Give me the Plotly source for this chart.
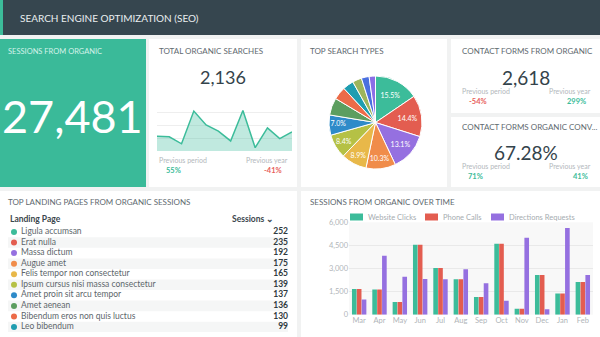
import plotly.graph_objects as go

W, H = 600, 337
FONT = "Lato, Open Sans, sans-serif"

# ---------------- data ----------------
kpi_sessions = "27,481"
kpi_searches = "2,136"
searches_trend = [57, 55, 28, 155, 101, 77, 39, 157, 13, 90, 48, 74]
searches_prev_period = "55%"
searches_prev_year = "-41%"

contact_forms = "2,618"
contact_prev_period = "-54%"
contact_prev_year = "299%"

conv_rate = "67.28%"
conv_prev_period = "71%"
conv_prev_year = "41%"

search_type_share = [15.5, 14.4, 13.1, 10.3, 8.9, 8.4, 7.0, 6.0, 4.5, 3.8, 3.2, 2.7, 2.2]
palette = ["#3cbc9a", "#e35d50", "#9570e0", "#f08c4a", "#e8b849", "#b5c145",
           "#2e8bc9", "#5c9e5f", "#ec6b48", "#1f9db0", "#9db55c", "#4a70e0", "#8b6ee6"]

landing_pages = ["Ligula accumsan", "Erat nulla", "Massa dictum", "Augue amet",
                 "Felis tempor non consectetur", "Ipsum cursus nisi massa consectetur",
                 "Amet proin sit arcu tempor", "Amet aenean", "Bibendum eros non quis luctus",
                 "Leo bibendum"]
landing_sessions = [252, 235, 192, 175, 165, 139, 137, 136, 130, 99]

months = ["Mar", "Apr", "May", "Jun", "Jul", "Aug", "Sep", "Oct", "Nov", "Dec", "Jan", "Feb"]
website_clicks = [1670, 1630, 820, 4550, 3030, 2300, 1150, 4600, 390, 2570, 1370, 2120]
phone_calls = [1670, 1630, 820, 4550, 3030, 2300, 1150, 4600, 390, 2570, 1370, 2120]
directions_requests = [980, 3830, 2470, 2320, 2300, 2950, 2050, 910, 5000, 350, 5630, 2570]
series_names = ["Website Clicks", "Phone Calls", "Directions Requests"]
series_colors = ["#3cbc9a", "#e35d50", "#9570e0"]
bar_ticks = [0, 1500, 3000, 4500, 6000]


def fx(x):
    return x / W


def fy(y):
    return 1 - y / H


fig = go.Figure()
shapes = []
annotations = []


def rect(x0, y0, x1, y1, color):
    shapes.append(dict(type="rect", xref="paper", yref="paper", x0=fx(x0), x1=fx(x1),
                       y0=fy(y1), y1=fy(y0), fillcolor=color, line=dict(width=0), layer="below"))


def txt(x, y, s, size, color, anchor="left", family=FONT, bold=False):
    annotations.append(dict(xref="paper", yref="paper", x=fx(x), y=fy(y), text=(f"<b>{s}</b>" if bold else s),
                            showarrow=False, xanchor=anchor, yanchor="middle",
                            font=dict(size=size, color=color, family=family)))


GREEN = "#3cbc9a"
RED = "#e8605a"
TITLE = "#616a70"
SUB = "#b3b8bc"

# header
rect(0, 0, 600, 35, "#36464f")
rect(0, 0, 3, 35, "#3cbc9a")
txt(18, 18, "SEARCH ENGINE OPTIMIZATION (SEO)", 10, "#e9eef0")

# tiles
rect(0, 39, 146, 187, "#3aba99")
rect(149, 39, 297, 187, "white")
rect(301, 39, 447, 187, "white")
rect(451, 39, 600, 113, "white")
rect(451, 117, 600, 187, "white")
rect(0, 191, 297, 337, "white")
rect(301, 191, 600, 337, "white")

# tile 1
txt(6, 51, "SESSIONS FROM ORGANIC", 7.5, "#d4f2e9")
txt(72, 116, kpi_sessions, 45, "white", "center")

# tile 2
txt(157, 51, "TOTAL ORGANIC SEARCHES", 8, TITLE)
txt(223, 77, kpi_searches, 18, "#34434b", "center")
txt(157, 160, "Previous period", 7, SUB)
txt(173, 170, searches_prev_period, 7.5, GREEN, "center", bold=True)
txt(290, 160, "Previous year", 7, SUB, "right")
txt(273, 170, searches_prev_year, 7.5, RED, "center", bold=True)

fig.add_trace(go.Scatter(x=list(range(len(searches_trend))), y=searches_trend, mode="lines",
                         line=dict(color=GREEN, width=1.5), fill="tozeroy",
                         fillcolor="rgba(60,188,154,0.32)", hoverinfo="skip", showlegend=False,
                         xaxis="x", yaxis="y"))

# tile 3
txt(308, 51, "TOP SEARCH TYPES", 8, TITLE)
fig.add_trace(go.Pie(values=search_type_share, sort=False, direction="clockwise", rotation=0,
                     marker=dict(colors=palette, line=dict(color="white", width=1)),
                     texttemplate=["%{percent:.1%}" if v >= 7 else "" for v in search_type_share],
                     textposition="inside", insidetextorientation="horizontal",
                     textfont=dict(size=7, color="white", family=FONT),
                     domain=dict(x=[fx(329), fx(422)], y=[fy(169), fy(76)]),
                     showlegend=False, hoverinfo="skip"))

# tile 4
txt(460, 51, "CONTACT FORMS FROM ORGANIC", 8, TITLE)
txt(526, 77, contact_forms, 19, "#34434b", "center")
txt(460, 91, "Previous period", 7, SUB)
txt(478, 101, contact_prev_period, 7.5, RED, "center", bold=True)
txt(593, 91, "Previous year", 7, SUB, "right")
txt(576, 101, contact_prev_year, 7.5, GREEN, "center", bold=True)

# tile 5
txt(460, 127, "CONTACT FORMS ORGANIC CONV...", 8, TITLE)
txt(526, 152, conv_rate, 19, "#34434b", "center")
txt(460, 166, "Previous period", 7, SUB)
txt(475, 176, conv_prev_period, 7.5, GREEN, "center", bold=True)
txt(593, 166, "Previous year", 7, SUB, "right")
txt(580, 176, conv_prev_year, 7.5, GREEN, "center", bold=True)

# landing pages table
txt(6, 202, "TOP LANDING PAGES FROM ORGANIC SESSIONS", 8, TITLE)
txt(8, 219, "Landing Page", 8.5, "#3b464c", bold=True)
txt(276, 219, "Sessions \u2304", 8.5, "#3b464c", "right", bold=True)
rows = list(range(len(landing_pages)))
for i in rows:
    if i % 2 == 1:
        shapes.append(dict(type="rect", xref="x3", yref="y3", x0=8, x1=288, y0=i - 0.5, y1=i + 0.5,
                           fillcolor="#f5f6f6", line=dict(width=0), layer="below"))
fig.add_trace(go.Scatter(x=[14] * len(rows), y=rows, mode="markers",
                         marker=dict(size=6, color=palette[:len(rows)]),
                         hoverinfo="skip", showlegend=False, xaxis="x3", yaxis="y3"))
fig.add_trace(go.Scatter(x=[21] * len(rows), y=rows, mode="text", text=landing_pages,
                         textposition="middle right",
                         textfont=dict(size=8.5, color="#5d666b", family=FONT),
                         hoverinfo="skip", showlegend=False, xaxis="x3", yaxis="y3"))
fig.add_trace(go.Scatter(x=[288] * len(rows), y=rows, mode="text",
                         text=[f"<b>{v}</b>" for v in landing_sessions],
                         textposition="middle left",
                         textfont=dict(size=8.5, color="#2f3a40", family=FONT),
                         hoverinfo="skip", showlegend=False, xaxis="x3", yaxis="y3"))

# bar chart
txt(308, 202, "SESSIONS FROM ORGANIC OVER TIME", 8, TITLE)
for name, vals, col in zip(series_names, [website_clicks, phone_calls, directions_requests], series_colors):
    fig.add_trace(go.Bar(x=months, y=vals, name=name, marker=dict(color=col, line=dict(width=0)),
                         xaxis="x2", yaxis="y2", hoverinfo="skip", showlegend=False))

# manual legend
legend_x = [350, 425, 491]
for lx, name, col in zip(legend_x, series_names, series_colors):
    shapes.append(dict(type="rect", xref="paper", yref="paper", x0=fx(lx), x1=fx(lx + 13),
                       y0=fy(220.5), y1=fy(213.5), fillcolor=col, line=dict(width=0)))
    txt(lx + 16, 217, name, 7.5, "#a6acb0")

# light plot-area background for bar chart
shapes.append(dict(type="rect", xref="x2 domain", yref="y2 domain", x0=0, x1=1, y0=0, y1=1,
                   fillcolor="#f8f8f8", line=dict(width=0), layer="below"))

fig.update_layout(
    width=W, height=H, margin=dict(l=0, r=0, t=0, b=0, autoexpand=False),
    paper_bgcolor="#f1f2f2", plot_bgcolor="rgba(0,0,0,0)",
    font=dict(family=FONT),
    shapes=shapes, annotations=annotations, showlegend=False,
    barmode="group", bargap=0.28, bargroupgap=0.05,
    xaxis=dict(domain=[fx(157), fx(292)], range=[0, len(searches_trend) - 1], visible=False,
               anchor="y"),
    yaxis=dict(domain=[fy(151), fy(99)], range=[0, 202], showticklabels=False, showgrid=True,
               gridcolor="#eeeeee", gridwidth=1, dtick=50, zeroline=False, anchor="x"),
    xaxis2=dict(domain=[fx(349), fx(593)], anchor="y2", showgrid=False, zeroline=False,
                tickfont=dict(size=7.5, color="#b0b5b9"), ticks="", showline=False),
    yaxis2=dict(domain=[fy(314.7), fy(222.3)], anchor="x2", range=[0, 6000], tickvals=bar_ticks,
                tickformat=",", tickfont=dict(size=7.5, color="#b0b5b9"), gridcolor="#e9e9e9",
                zeroline=False, showline=False, ticks=""),
    xaxis3=dict(domain=[0, fx(297)], range=[0, 297], visible=False, anchor="y3"),
    yaxis3=dict(domain=[fy(332.3), fy(226.7)], range=[9.5, -0.5], visible=False, anchor="x3"),
)

fig.write_html("out.html")
